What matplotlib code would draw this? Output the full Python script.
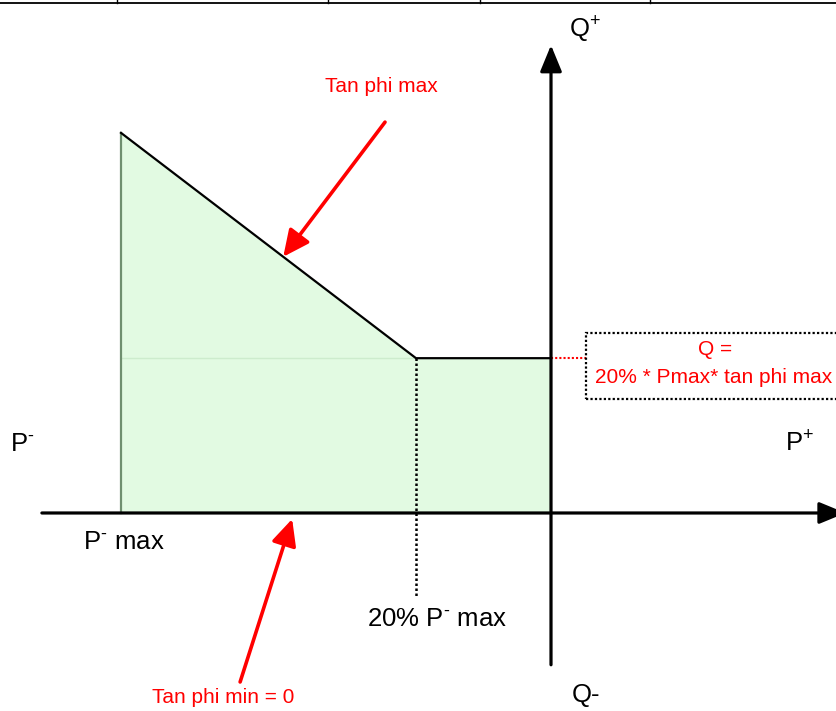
import matplotlib
matplotlib.use("Agg")
import matplotlib.pyplot as plt
from matplotlib.patches import Polygon, Rectangle

plt.rcParams['font.family'] = ['Liberation Sans', 'DejaVu Sans']
plt.rcParams['mathtext.fontset'] = 'custom'
plt.rcParams['mathtext.rm'] = 'Liberation Sans'
plt.rcParams['mathtext.it'] = 'Liberation Sans'
plt.rcParams['mathtext.bf'] = 'Liberation Sans'

# capability boundary (P as share of Pmax, Q in same units)
p_bound = [-1.0, -1.0, -0.314, 0.0, 0.0]
q_bound = [0.0, 0.884, 0.36, 0.36, 0.0]
p_knee = p_bound[2]
q_flat = q_bound[2]

# top border ticks (remnant of a table frame)
border_ticks = [-1.009, -0.518, -0.165, 0.230]

fig = plt.figure(figsize=(8.37, 7.11), dpi=100)
ax = fig.add_axes([0, 0, 1, 1])
ax.set_xlim(-1.2814, 0.6651)
ax.set_ylim(-0.4605, 1.193)
ax.axis("off")

# green area
ax.add_patch(Polygon(list(zip(p_bound, q_bound)), closed=True,
                     facecolor='#e2fae2', edgecolor='none', zorder=1))
ax.plot([p_bound[0], p_knee], [q_flat, q_flat], color='#cdeccd', lw=1, zorder=2)
ax.plot(p_bound[:2], q_bound[:2], color='#6f8f6f', lw=1.6, zorder=2)
ax.plot(p_bound[1:4], q_bound[1:4], color='black', lw=1.6, zorder=3)

# dotted helpers
ax.plot([p_knee, p_knee], [q_flat, -0.195], color='black', lw=1.8,
        ls=(0, (1, 1)), zorder=3)
ax.plot([0, 0.081], [q_flat, q_flat], color='red', lw=1.5,
        ls=(0, (1, 1)), zorder=3)
ax.add_patch(Rectangle((0.081, 0.265), 0.7, 0.154, fill=False,
                       edgecolor='black', lw=1.6, ls=(0, (1, 1)), zorder=3))

# axes with arrows
axis_arrow = dict(arrowstyle='-|>,head_length=0.85,head_width=0.35',
                  mutation_scale=19, lw=2.3, color='black', shrinkA=0, shrinkB=0)
ax.annotate('', xy=(0.685, 0), xytext=(-1.184, 0), arrowprops=axis_arrow,
            annotation_clip=False, zorder=4)
ax.annotate('', xy=(0, 1.088), xytext=(0, -0.353), arrowprops=axis_arrow,
            annotation_clip=False, zorder=4)

# top border line
ax.plot([-1.3, 0.7], [1.186, 1.186], color='black', lw=1.3, clip_on=False)
for bx in border_ticks:
    ax.plot([bx, bx], [1.186, 1.2], color='black', lw=1)

# black labels
fs = 18.5
ax.text(0.042, 1.105, r'Q$^{+}$', fontsize=fs, va='baseline', ha='left')
ax.text(-1.258, 0.144, r'P$^{\text{-}}$', fontsize=fs, va='baseline', ha='left')
ax.text(0.544, 0.142, r'P$^{+}$', fontsize=fs, va='baseline', ha='left')
ax.text(-1.088, -0.084, r'P$^{\text{-}}$ max', fontsize=fs, va='baseline', ha='left')
ax.text(-0.428, -0.263, r'20% P$^{\text{-}}$ max', fontsize=fs, va='baseline', ha='left')
ax.text(0.049, -0.44, 'Q-', fontsize=fs, va='baseline', ha='left')

# red annotations
t = 0.55
tip_x = p_bound[1] + t * (p_knee - p_bound[1])
tip_y = q_bound[1] + t * (q_flat - q_bound[1])
red_arrow = dict(arrowstyle='-|>,head_length=0.8,head_width=0.38',
                 mutation_scale=20, lw=2.6, color='red', shrinkA=0, shrinkB=0)
ax.annotate('', xy=(tip_x, tip_y), xytext=(-0.386, 0.909), arrowprops=red_arrow)
ax.annotate('', xy=(-0.602, -0.014), xytext=(-0.723, -0.393), arrowprops=red_arrow)

ax.text(-0.526, 0.979, 'Tan phi max', fontsize=15, color='red', va='baseline', ha='left')
ax.text(-0.928, -0.442, 'Tan phi min = 0', fontsize=15, color='red', va='baseline', ha='left')
ax.text(0.381, 0.367, 'Q =', fontsize=15, color='red', va='baseline', ha='center')
ax.text(0.379, 0.302, '20% * Pmax* tan phi max', fontsize=15, color='red',
        va='baseline', ha='center')

fig.savefig("out.png", dpi=100)
